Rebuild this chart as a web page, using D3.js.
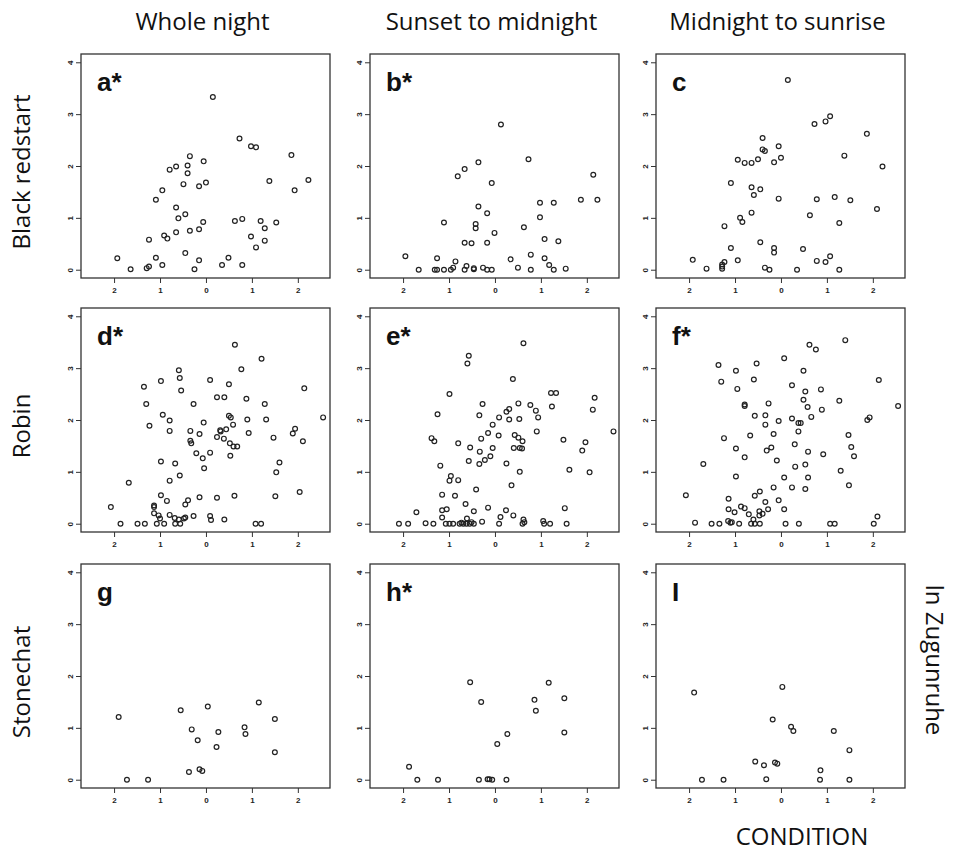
<!DOCTYPE html>
<html>
<head>
<meta charset="utf-8">
<script src="https://cdn.jsdelivr.net/npm/d3@7"></script>
<style>
  body { margin: 0; background: #fff; }
  .title { font-family: "Open Sans", "Noto Sans", sans-serif; font-size: 24px; fill: #111; }
  .letter { font-family: "Liberation Sans", Arial, sans-serif; font-size: 26px; font-weight: bold; fill: #111; }
  .tick text { font-family: "Liberation Sans", Arial, sans-serif; font-size: 8px; font-weight: bold; fill: #222; }
</style>
</head>
<body>
<div id="chart"></div>
<script>
// Labels
const columnTitles = ["Whole night", "Sunset to midnight", "Midnight to sunrise"];
const rowTitles = ["Black redstart", "Robin", "Stonechat"];
const panelLetters = ["a*", "b*", "c", "d*", "e*", "f*", "g", "h*", "I"];
const xTicks = [-2, -1, 0, 1, 2];
const xTickLabels = ["2", "1", "0", "1", "2"];
const yTicks = [0, 1, 2, 3, 4];
const yTickLabels = ["0", "1", "2", "3", "4"];

// Points [condition, ln Zugunruhe].
const panelA = [[0.15,3.33],[0.73,2.53],[0.98,2.38],[1.09,2.36],[1.86,2.21],[-0.35,2.19],[-0.05,2.09],[-0.65,1.99],[-0.40,2.01],[-0.79,1.93],[-0.40,1.86],[2.23,1.73],[1.38,1.71],[-0.49,1.65],[0.0,1.68],[-0.15,1.61],[-0.95,1.53],[1.93,1.53],[-1.09,1.35],[-0.65,1.20],[-0.45,1.07],[-0.60,0.99],[0.79,0.98],[0.63,0.94],[-0.06,0.92],[1.19,0.94],[1.53,0.91],[1.28,0.80],[-0.15,0.78],[-0.35,0.75],[-0.65,0.72],[-0.91,0.66],[-0.84,0.60],[-1.24,0.58],[0.98,0.64],[1.28,0.56],[1.09,0.43],[-0.45,0.32],[-1.93,0.22],[-1.09,0.23],[0.49,0.23],[-0.15,0.18],[-0.95,0.09],[0.35,0.09],[0.79,0.09],[-1.24,0.06],[-1.29,0.03],[-1.64,0.01],[-0.25,0.01]];
const panelB = [[0.13,2.80],[0.73,2.13],[2.14,1.83],[-0.36,2.07],[-0.66,1.94],[-0.81,1.80],[-0.07,1.67],[0.98,1.29],[1.28,1.29],[1.87,1.35],[2.23,1.35],[-0.36,1.22],[-0.17,1.09],[0.98,1.01],[-1.11,0.91],[-0.42,0.88],[-0.42,0.80],[0.63,0.82],[-0.01,0.71],[1.08,0.59],[1.38,0.55],[-0.66,0.52],[-0.51,0.51],[-0.17,0.52],[0.78,0.29],[-1.95,0.26],[-1.26,0.22],[0.34,0.20],[1.08,0.22],[-0.86,0.16],[1.18,0.09],[-0.62,0.07],[-0.91,0.04],[0.50,0.04],[-0.26,0.04],[1.54,0.02],[-1.66,0],[-1.31,0],[-1.26,0],[-1.11,0],[-0.96,0],[-0.66,0],[-0.46,0.01],[-0.17,0],[-0.07,0],[0.78,0],[1.28,0],[-0.46,0.03]];
const panelC = [[0.15,3.66],[1.07,2.96],[0.97,2.86],[0.73,2.81],[1.87,2.62],[-0.40,2.54],[-0.05,2.38],[-0.40,2.32],[-0.35,2.29],[1.38,2.20],[0.0,2.16],[-0.94,2.12],[-0.50,2.13],[-0.79,2.06],[-0.64,2.06],[-0.15,2.07],[2.21,1.99],[-1.09,1.67],[-0.64,1.59],[-0.45,1.55],[-0.59,1.44],[-0.05,1.37],[0.78,1.36],[1.17,1.40],[1.51,1.34],[2.09,1.17],[-0.64,1.10],[0.63,1.05],[-0.89,1.00],[-0.84,0.92],[1.27,0.90],[-1.23,0.84],[-0.45,0.53],[-1.09,0.42],[-0.15,0.42],[-0.15,0.33],[0.48,0.40],[1.07,0.26],[-1.92,0.19],[-0.94,0.18],[0.78,0.17],[0.97,0.15],[-1.23,0.15],[-1.28,0.10],[-1.28,0.06],[-1.28,0.02],[-1.62,0.02],[-0.35,0.04],[-0.25,0],[0.35,0],[1.27,0]];
const panelD = [[0.63,3.45],[1.21,3.18],[-0.59,2.96],[0.77,2.98],[-0.57,2.81],[0.09,2.77],[-0.98,2.75],[0.50,2.69],[-1.35,2.64],[2.14,2.61],[-0.54,2.57],[0.24,2.44],[0.40,2.44],[0.88,2.41],[-1.30,2.31],[-0.27,2.31],[1.28,2.31],[-0.94,2.10],[0.50,2.08],[0.54,2.05],[2.55,2.05],[-0.79,1.99],[0.90,2.01],[1.31,2.01],[-0.05,1.95],[0.59,1.91],[-1.23,1.89],[1.94,1.83],[0.44,1.82],[-0.79,1.79],[-0.34,1.79],[0.31,1.80],[0.32,1.78],[0.93,1.75],[1.89,1.74],[-0.14,1.73],[0.24,1.67],[1.47,1.66],[0.39,1.64],[-0.34,1.60],[2.11,1.59],[-0.32,1.55],[0.52,1.55],[0.60,1.49],[0.68,1.49],[-0.21,1.36],[0.09,1.37],[0.53,1.31],[-0.07,1.26],[-0.98,1.20],[1.60,1.18],[-0.67,1.16],[-0.04,1.07],[1.53,0.99],[-0.57,0.93],[-0.79,0.83],[-1.68,0.79],[-0.98,0.55],[0.62,0.54],[2.04,0.61],[1.51,0.53],[-0.14,0.51],[0.24,0.50],[-0.85,0.44],[-0.39,0.45],[-0.45,0.37],[-1.13,0.35],[-1.13,0.32],[-2.07,0.32],[-1.13,0.20],[-1.03,0.16],[-1.00,0.10],[-0.79,0.17],[-0.27,0.15],[0.09,0.15],[-0.68,0.11],[-0.45,0.12],[-0.59,0.08],[-0.48,0.10],[0.11,0.07],[0.40,0.08],[-1.86,0],[-1.49,0],[-1.33,0],[-1.07,0],[-0.91,0],[-0.67,0],[-0.56,0],[1.08,0],[1.20,0]];
const panelE = [[0.62,3.48],[-0.57,3.24],[-0.60,3.09],[0.39,2.79],[1.22,2.52],[1.33,2.52],[2.17,2.43],[-0.99,2.50],[-0.27,2.31],[0.51,2.32],[0.77,2.29],[1.24,2.26],[0.31,2.21],[0.25,2.16],[0.89,2.18],[2.13,2.20],[-1.25,2.11],[-0.34,2.09],[0.09,2.05],[0.31,2.01],[0.53,2.02],[0.94,2.05],[-0.05,1.91],[2.58,1.78],[0.91,1.78],[-0.15,1.75],[0.08,1.70],[0.43,1.71],[0.51,1.66],[-1.38,1.65],[-1.32,1.59],[-0.30,1.64],[0.60,1.59],[1.49,1.62],[-0.80,1.55],[1.97,1.57],[1.90,1.41],[-0.54,1.47],[-0.05,1.46],[0.41,1.46],[0.54,1.46],[0.59,1.45],[-0.33,1.39],[-0.22,1.23],[-0.57,1.21],[-0.34,1.15],[-0.10,1.30],[0.25,1.16],[-1.19,1.12],[1.62,1.04],[0.54,1.00],[2.06,0.99],[-0.96,0.92],[-0.99,0.83],[-0.80,0.84],[0.36,0.74],[-0.41,0.66],[-1.15,0.56],[-0.87,0.54],[-0.64,0.38],[-0.15,0.31],[1.52,0.30],[-1.05,0.28],[-1.15,0.26],[0.24,0.26],[-1.71,0.22],[-0.46,0.24],[0.40,0.16],[-1.15,0.12],[0.12,0.13],[-0.61,0.10],[0.62,0.08],[-0.28,0.04],[1.05,0.05],[0.64,0.03],[-2.09,0],[-1.89,0],[-1.51,0.01],[-1.34,0],[-1.07,0],[-0.99,0],[-0.91,0],[-0.77,0],[-0.69,0],[-0.62,0],[-0.55,0],[-0.46,0],[0.09,0],[0.60,0],[1.07,0],[1.20,0],[1.56,0],[-0.73,0.02],[-0.51,0.03]];
const panelF = [[1.40,3.54],[0.62,3.45],[0.76,3.36],[0.07,3.19],[-1.36,3.06],[-0.53,3.09],[-0.98,2.95],[0.49,2.95],[-0.59,2.78],[2.13,2.77],[-1.30,2.74],[0.24,2.67],[-0.95,2.60],[0.53,2.55],[0.87,2.59],[0.49,2.39],[1.27,2.37],[-0.27,2.32],[-0.79,2.30],[-0.79,2.27],[2.55,2.27],[0.58,2.25],[0.89,2.20],[-0.57,2.08],[-0.34,2.09],[0.24,2.03],[0.66,2.06],[1.93,2.05],[1.88,2.00],[-0.05,1.98],[-0.34,1.91],[0.38,1.94],[0.43,1.94],[0.38,1.78],[-0.16,1.73],[-0.67,1.70],[1.47,1.71],[-1.24,1.65],[0.30,1.53],[-0.98,1.45],[-0.21,1.47],[1.53,1.48],[-0.31,1.41],[0.59,1.39],[0.92,1.34],[1.59,1.30],[-0.79,1.28],[-0.09,1.22],[0.53,1.14],[-1.69,1.15],[0.31,1.10],[1.30,1.02],[-0.98,0.91],[0.07,0.89],[0.59,0.89],[1.48,0.74],[0.24,0.70],[-0.16,0.70],[0.53,0.67],[-2.07,0.55],[-0.46,0.62],[-0.57,0.54],[-1.14,0.48],[-0.05,0.45],[-0.34,0.42],[-0.87,0.33],[-0.79,0.30],[-1.14,0.28],[-0.28,0.28],[0.07,0.28],[-1.01,0.22],[-0.70,0.18],[-0.47,0.24],[-0.40,0.19],[-0.47,0.16],[-0.60,0.08],[2.10,0.14],[-1.15,0.05],[-1.07,0.03],[-1.87,0.02],[-1.51,0],[-1.34,0],[-1.10,0.02],[-0.91,0],[-0.65,0],[-0.57,0],[-0.46,0],[0.10,0],[0.39,0],[1.07,0],[1.17,0],[2.02,0]];
const panelG = [[1.15,1.49],[0.04,1.41],[-0.55,1.34],[-1.90,1.21],[1.50,1.17],[0.84,1.01],[-0.31,0.97],[0.27,0.92],[0.86,0.88],[-0.18,0.76],[0.23,0.63],[1.50,0.53],[-0.14,0.20],[-0.08,0.17],[-0.37,0.15],[-1.72,0],[-1.26,0]];
const panelH = [[-0.54,1.88],[1.17,1.87],[1.51,1.57],[0.86,1.54],[-0.30,1.50],[0.89,1.33],[1.51,0.91],[0.27,0.88],[0.05,0.69],[-1.87,0.25],[-1.69,0],[-1.24,0],[-0.35,0],[-0.16,0.01],[-0.12,0.01],[-0.06,0],[0.25,0]];
const panelI = [[-1.89,1.68],[0.03,1.79],[-0.18,1.16],[0.22,1.02],[0.27,0.94],[1.15,0.94],[1.49,0.57],[-0.56,0.35],[-0.37,0.28],[-0.13,0.33],[-0.08,0.31],[0.86,0.18],[-1.72,0],[-1.25,0],[-0.32,0.01],[0.85,0],[1.49,0]];

const panels = [panelA, panelB, panelC, panelD, panelE, panelF, panelG, panelH, panelI];

// Layout
const width = 955, height = 853;
const colLeft = [81, 370, 656];
const rowTop = [54, 308, 564];
const boxW = 249, boxH = 224;

const svg = d3.select("#chart").append("svg")
  .attr("width", width)
  .attr("height", height);

// Same scales in every panel (local coordinates).
const x = d3.scaleLinear().domain([-2.72, 2.7]).range([0, boxW]);
const y = d3.scaleLinear().domain([-0.16, 4.16]).range([boxH, 0]);

panels.forEach((data, i) => {
  const r = Math.floor(i / 3), c = i % 3;
  const g = svg.append("g")
    .attr("transform", `translate(${colLeft[c]},${rowTop[r]})`);

  // x axis
  const xa = g.append("g")
    .attr("transform", `translate(0,${boxH})`)
    .call(d3.axisBottom(x).tickValues(xTicks).tickSize(5).tickPadding(4)
      .tickFormat((d, k) => xTickLabels[k]));
  // y axis
  const ya = g.append("g")
    .call(d3.axisLeft(y).tickValues(yTicks).tickSize(5).tickPadding(4)
      .tickFormat((d, k) => yTickLabels[k]));
  ya.selectAll(".tick text")
    .attr("transform", "rotate(-90)")
    .attr("x", 0).attr("y", -11)
    .attr("dy", "0.32em")
    .attr("text-anchor", "middle");
  [xa, ya].forEach(a => {
    a.select(".domain").remove();
    a.selectAll(".tick line").attr("stroke", "#333");
  });

  // box
  g.append("rect")
    .attr("width", boxW).attr("height", boxH)
    .attr("fill", "none").attr("stroke", "#333").attr("stroke-width", 1.3);

  // points
  g.append("g").selectAll("circle")
    .data(data)
    .join("circle")
    .attr("cx", d => x(d[0]))
    .attr("cy", d => y(d[1]))
    .attr("r", 2.4)
    .attr("fill", "none")
    .attr("stroke", "#222")
    .attr("stroke-width", 1.2);

  // panel letter
  g.append("text")
    .attr("class", "letter")
    .attr("x", 16).attr("y", 37)
    .text(panelLetters[i]);
});

// Column titles
svg.selectAll(".coltitle")
  .data(columnTitles)
  .join("text")
  .attr("class", "title")
  .attr("text-anchor", "middle")
  .attr("x", (d, i) => colLeft[i] + boxW / 2 - 3)
  .attr("y", 30)
  .text(d => d);

// Row titles
svg.selectAll(".rowtitle")
  .data(rowTitles)
  .join("text")
  .attr("class", "title")
  .attr("text-anchor", "middle")
  .attr("transform", (d, i) => `translate(30,${rowTop[i] + boxH / 2 + 6}) rotate(-90)`)
  .text(d => d);

// Axis titles
svg.append("text")
  .attr("class", "title")
  .attr("text-anchor", "middle")
  .attr("transform", "translate(926,660) rotate(90)")
  .text("ln Zugunruhe");

svg.append("text")
  .attr("class", "title")
  .attr("text-anchor", "middle")
  .attr("x", 802).attr("y", 845)
  .text("CONDITION");
</script>
</body>
</html>
